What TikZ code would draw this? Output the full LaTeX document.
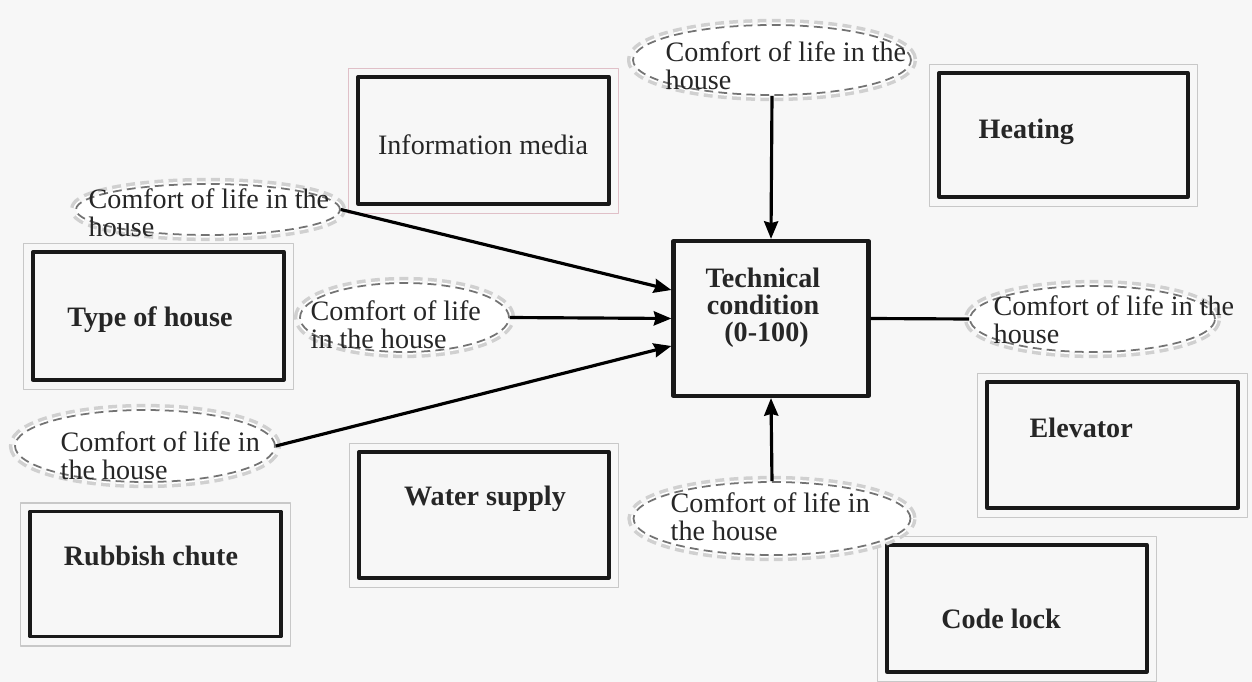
\documentclass[tikz,border=0pt]{standalone}
\usepackage{fontspec}
\setmainfont{Liberation Serif}
\usetikzlibrary{shapes.geometric,arrows.meta}
\definecolor{paper}{RGB}{247,247,247}
\definecolor{halo}{RGB}{208,208,208}
\definecolor{dashgray}{RGB}{115,115,115}
\definecolor{framegray}{RGB}{200,200,200}
\definecolor{framepink}{RGB}{224,192,200}
\begin{document}
\begin{tikzpicture}[x=0.02cm,y=-0.02cm,line join=round,>={Stealth[length=10pt,width=8pt,inset=1pt]},thick]
	\tikzset{innerbox/.style={draw=black!90,line width=1.9pt,inner sep=0pt},
		boxframe/.style={draw=framegray,line width=0.8pt},
		comfort/.style={ellipse,draw=dashgray,dash pattern=on 5pt off 3pt,line width=1pt,inner sep=0pt,
			preaction={draw=halo,line width=7pt},preaction={draw=white,fill=white,line width=3pt}},
		txt/.style={font=\fontsize{16}{16}\selectfont,text=black!85,inner sep=0pt,align=left},
		btxt/.style={txt,font=\fontsize{16}{16}\selectfont\bfseries},
		conn/.style={line width=1.8pt}}
	\useasboundingbox (0,0) rectangle (1252,682);
	\fill[paper] (0,0) rectangle (1252,682);
	% boxes
	\node[innerbox,minimum width=5.02cm,minimum height=2.54cm] (info) at (483.5,140.5) {};
	\node[innerbox,minimum width=4.98cm,minimum height=2.48cm] (heat) at (1063.5,135) {};
	\node[innerbox,minimum width=5.02cm,minimum height=2.56cm] (type) at (158.5,316) {};
	\node[innerbox,line width=2.4pt,minimum width=3.9cm,minimum height=3.1cm] (tc) at (771,318.5) {};
	\node[innerbox,minimum width=5.02cm,minimum height=2.52cm] (elev) at (1112.5,445) {};
	\node[innerbox,minimum width=5.0cm,minimum height=2.52cm] (water) at (484,515) {};
	\node[innerbox,minimum width=5.02cm,minimum height=2.5cm] (rubbish) at (155.5,574) {};
	\node[innerbox,minimum width=5.2cm,minimum height=2.54cm] (code) at (1017,608.5) {};
	\foreach \n in {heat,type,elev,water,rubbish,code}
	\draw[boxframe] ([shift={(-8,-7)}]\n.north west) rectangle ([shift={(8,8)}]\n.south east);
	\draw[boxframe,draw=framepink] ([shift={(-8,-7)}]info.north west) rectangle ([shift={(8,8)}]info.south east);
	\node[txt] (infoL) at (483,145) {Information media};
	\node[btxt,anchor=west] (heatL) at (978,132) {Heating};
	\node[btxt] (typeL) at (150,320) {Type of house};
	\node[btxt,align=center,font=\fontsize{16}{15.5}\selectfont\bfseries] (tcL) at (763,308) {Technical\\condition\\\ (0-100)};
	\node[btxt,anchor=west] (elevL) at (1029,428) {Elevator};
	\node[btxt] (waterL) at (485,499) {Water supply};
	\node[btxt] (rubbishL) at (151,556) {Rubbish chute};
	\node[btxt] (codeL) at (1001,619) {Code lock};
	% comfort ellipses
	\node[comfort,minimum width=5.56cm,minimum height=1.4cm] (ctop) at (772,60) {};
	\node[comfort,minimum width=5.28cm,minimum height=1.02cm] (cl1) at (208,209.5) {};
	\node[comfort,minimum width=4.18cm,minimum height=1.38cm] (cmid) at (404.5,317.5) {};
	\node[comfort,minimum width=5.2cm,minimum height=1.44cm] (cl3) at (145,446) {};
	\node[comfort,minimum width=4.9cm,minimum height=1.32cm] (cright) at (1092.5,319) {};
	\node[comfort,minimum width=5.54cm,minimum height=1.46cm] (cbot) at (772,518.5) {};
	\node[txt,anchor=west] (ctopL) at (665,66) {Comfort of life in the\\house};
	\node[txt,anchor=west] (cl1L) at (88,213) {Comfort of life in the\\house};
	\node[txt,anchor=west] (cmidL) at (310,325) {Comfort of life\\in the house};
	\node[txt,anchor=west] (cl3L) at (60,456) {Comfort of life in\\the house};
	\node[txt,anchor=west] (crightL) at (993,320) {Comfort of life in the\\house};
	\node[txt,anchor=west] (cbotL) at (670,517) {Comfort of life in\\the house};
	% connectors
	\draw[conn,->] (cl1.east) -- ([yshift=0.57cm]tc.west);
	\draw[conn,->] (cmid.east) -- (tc.west);
	\draw[conn,->] (cl3.east) -- ([yshift=-0.55cm]tc.west);
	\draw[conn,->] (ctop.south) -- (tc.north);
	\draw[conn,->] (cbot.north) -- (tc.south);
	\draw[conn] (tc.east) -- (cright.west);
\end{tikzpicture}
\end{document}
